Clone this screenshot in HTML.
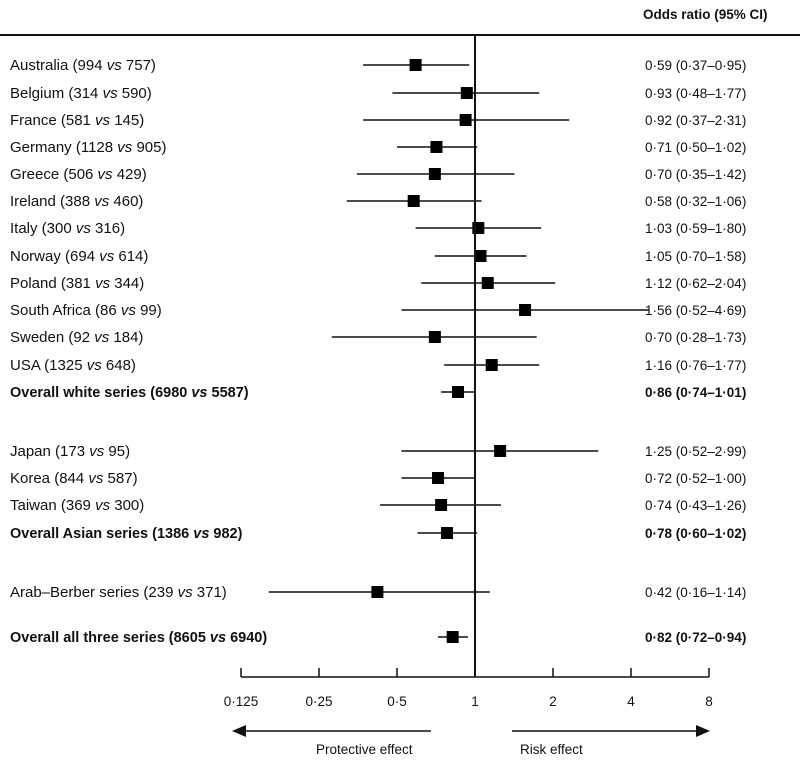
<!DOCTYPE html>
<html><head><meta charset="utf-8"><style>
html,body{margin:0;padding:0;background:#fff;}
svg{display:block;font-family:"Liberation Sans",sans-serif;}
text{font-size:13.5px;fill:#111;}
.b{font-weight:bold;}
.lab{font-size:15px;}
.lab.b{font-size:14.5px;}
</style></head><body>
<svg id="chart" width="800" height="763" viewBox="0 0 800 763" xmlns="http://www.w3.org/2000/svg">
<text x="643" y="19" class="b">Odds ratio (95% CI)</text>
<line x1="0" y1="35" x2="800" y2="35" stroke="#111" stroke-width="2"/>
<g id="rows"></g>
<g id="axis"></g>
<line x1="242" y1="731" x2="431" y2="731" stroke="#111" stroke-width="1.5"/>
<polygon points="232,731 246,725 246,737" fill="#111"/>
<line x1="512" y1="731" x2="699" y2="731" stroke="#111" stroke-width="1.5"/>
<polygon points="710,731 696,725 696,737" fill="#111"/>
<text x="316" y="754">Protective effect</text>
<text x="520" y="754">Risk effect</text>
</svg>
<script>
const labels = ["Australia","Belgium","France","Germany","Greece","Ireland","Italy","Norway","Poland","South Africa","Sweden","USA","Overall white series","Japan","Korea","Taiwan","Overall Asian series","Arab\u2013Berber series","Overall all three series"];
const nCases = ["994","314","581","1128","506","388","300","694","381","86","92","1325","6980","173","844","369","1386","239","8605"];
const nCtrl = ["757","590","145","905","429","460","316","614","344","99","184","648","5587","95","587","300","982","371","6940"];
const orVals = [0.59,0.93,0.92,0.71,0.70,0.58,1.03,1.05,1.12,1.56,0.70,1.16,0.86,1.25,0.72,0.74,0.78,0.42,0.82];
const ciLow = [0.37,0.48,0.37,0.50,0.35,0.32,0.59,0.70,0.62,0.52,0.28,0.76,0.74,0.52,0.52,0.43,0.60,0.16,0.72];
const ciHigh = [0.95,1.77,2.31,1.02,1.42,1.06,1.80,1.58,2.04,4.69,1.73,1.77,1.01,2.99,1.00,1.26,1.02,1.14,0.94];
const boldRows = [12,16,18];
const rowY = [65,93,120,147,174,201,228,256,283,310,337,365,392,451,478,505,533,592,637];
const ticks = [0.125,0.25,0.5,1,2,4,8];
const tickLabels = ["0\u00b7125","0\u00b725","0\u00b75","1","2","4","8"];

const NS="http://www.w3.org/2000/svg";
const x = v => 475 + 78*Math.log2(v);
const fmt = v => v.toFixed(2).replace('.', '\u00b7');
function mk(tag, attrs, parent){const e=document.createElementNS(NS,tag);for(const k in attrs)e.setAttribute(k,attrs[k]);parent.appendChild(e);return e;}
const rows=document.getElementById('rows');
const axis=document.getElementById('axis');

const ref=mk('line',{x1:x(1),y1:35,x2:x(1),y2:677,stroke:'#111','stroke-width':2},axis);



labels.forEach((lab,i)=>{
  const y=rowY[i];
  const bold=boldRows.includes(i);
  const g=mk('g',{},rows);
  
  
  const t=mk('text',{x:10,y:y+5,class:bold?'lab b':'lab'},g);
  
  
  t.appendChild(document.createTextNode(lab+' ('+nCases[i]+' '));
  const vs=mk('tspan',{'font-style':'italic'},t); vs.textContent='vs';
  t.appendChild(document.createTextNode(' '+nCtrl[i]+')'));
  const ci=mk('line',{x1:x(ciLow[i]),y1:y,x2:x(ciHigh[i]),y2:y,stroke:'#111','stroke-width':1.5},g);
  
  
  const s=12;
  const sq=mk('rect',{x:x(orVals[i])-s/2,y:y-s/2,width:s,height:s,fill:'#000'},g);
  
  
  const v=mk('text',{x:645,y:y+5,class:bold?'b':''},g);
  
  
  v.textContent=fmt(orVals[i])+' ('+fmt(ciLow[i])+'\u2013'+fmt(ciHigh[i])+')';
});

const ax=mk('line',{x1:x(0.125),y1:677,x2:x(8),y2:677,stroke:'#111','stroke-width':1.5},axis);


ticks.forEach((tv,i)=>{
  const tk=mk('line',{x1:x(tv),y1:668,x2:x(tv),y2:677,stroke:'#111','stroke-width':1.5},axis);
  
  
  const tl=mk('text',{x:x(tv),y:706,'text-anchor':'middle'},axis);
  
  
  tl.textContent=tickLabels[i];
});
</script>
</body></html>
